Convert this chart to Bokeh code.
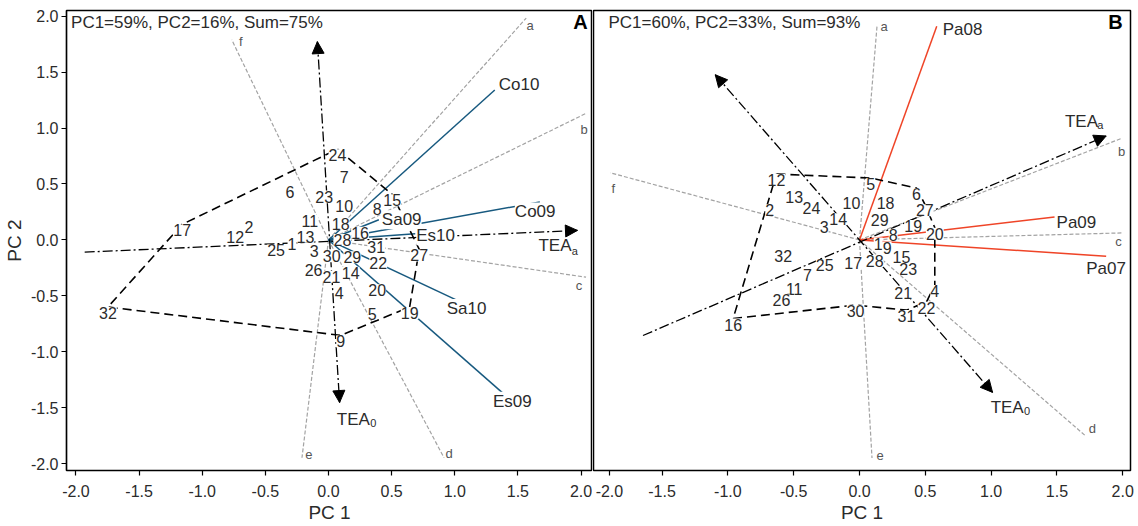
from bokeh.plotting import figure
from bokeh.layouts import row
from bokeh.models import (ColumnDataSource, Arrow, NormalHead, FixedTicker,
                          PrintfTickFormatter, Range1d)
from bokeh.core.properties import value
from bokeh.embed import file_html
from bokeh.resources import INLINE

FONT = "Liberation Sans"

# ---------------- data ----------------
genotypes = [str(i) for i in range(1, 33)]

# Panel A (PC1=59%, PC2=16%)
a_pc1 = [-0.289, -0.630, -0.113, 0.084, 0.346, -0.305, 0.124, 0.386, 0.097, 0.124,
         -0.147, -0.739, -0.183, 0.176, 0.504, 0.250, -1.159, 0.097, 0.643, 0.386,
         0.024, 0.394, -0.034, 0.071, -0.415, -0.118, 0.719, 0.110, 0.189, 0.026,
         0.378, -1.747]
a_pc2 = [0.013, 0.170, -0.047, -0.419, -0.605, 0.486, 0.620, 0.327, -0.853, 0.357,
         0.222, 0.082, 0.082, -0.240, 0.408, 0.118, 0.139, 0.199, -0.599, -0.396,
         -0.276, -0.151, 0.441, 0.811, -0.040, -0.211, -0.085, 0.052, -0.100, -0.091,
         -0.007, -0.599]
a_hull = ["24", "15", "27", "19", "9", "32", "17"]
a_env = ["Co10", "Co09", "Sa09", "Es10", "Sa10", "Es09"]
a_env_pc1 = [1.317, 1.674, 0.399, 0.687, 1.024, 1.390]
a_env_pc2 = [1.340, 0.339, 0.181, 0.056, -0.542, -1.378]
sectors = ["a", "b", "c", "d", "e", "f"]
a_sector_pc1 = [1.566, 2.040, 2.040, 0.915, -0.210, -0.766]
a_sector_pc2 = [1.982, 1.131, -0.333, -1.946, -1.946, 1.788]
a_tea_abs = [(-1.931, -0.109), (1.972, 0.085)]
a_tea_ord = [(-0.088, 1.772), (0.088, -1.453)]
a_title = "PC1=59%, PC2=16%, Sum=75%"

# Panel B (PC1=60%, PC2=33%)
b_pc1 = [0.142, -0.682, -0.268, 0.572, 0.086, 0.433, -0.395, 0.256, 0.210, -0.061,
         -0.496, -0.631, -0.496, -0.162, 0.319, -0.960, -0.048, 0.198, 0.408, 0.572,
         0.332, 0.509, 0.370, -0.365, -0.264, -0.593, 0.496, 0.116, 0.154, -0.030,
         0.357, -0.580]
b_pc2 = [0.021, 0.320, 0.173, -0.403, 0.553, 0.463, -0.260, 0.099, -0.015, 0.388,
         -0.383, 0.589, 0.439, 0.239, -0.099, -0.702, -0.150, 0.388, 0.179, 0.110,
         -0.418, -0.553, -0.209, 0.338, -0.170, -0.487, 0.320, -0.134, 0.230, -0.582,
         -0.627, -0.090]
b_hull = ["12", "5", "6", "27", "20", "4", "22", "31", "30", "16"]
b_env = ["Pa08", "Pa09", "Pa07"]
b_env_pc1 = [0.587, 1.482, 1.874]
b_env_pc2 = [1.909, 0.206, -0.146]
b_sector_pc1 = [0.134, 1.992, 2.005, 1.717, 0.095, -1.894]
b_sector_pc2 = [1.924, 0.908, 0.063, -1.750, -1.949, 0.600]
b_tea_abs = [(-1.645, -0.854), (1.874, 0.929)]
b_tea_ord = [(-1.096, 1.476), (1.011, -1.362)]
b_title = "PC1=60%, PC2=33%, Sum=93%"

x_ticks = [-2.0, -1.5, -1.0, -0.5, 0.0, 0.5, 1.0, 1.5, 2.0]
y_ticks = [-2.0, -1.5, -1.0, -0.5, 0.0, 0.5, 1.0, 1.5, 2.0]

# ---------------- styles ----------------
a_env_off = [(4, -5), (-25, 10), (3, 0), (1, 2), (-11, 8), (-11, 7)]
b_env_off = [(6, 3), (2, 6), (-20, 12)]
a_sector_off = [(4, 7), (-2, 16), (-7, 8), (5, -4), (7, -3), (9, 2)]
b_sector_off = [(7, 2), (0, 13), (-5, 9), (7, -7), (8, -3), (3, 16)]
a_tea_lab = {"abs": ((-22.5, 15), (-2.7, 21)), "ord": ((13.8, 16.6), (33.8, 20.6))}
b_tea_lab = {"abs": ((-24.7, -14.3), (-5.8, -11)), "ord": ((14.6, 15), (34.4, 19))}

TXT = "#2b2b2b"
DASHDOT = "10 3 2 3"


def base_fig(width, left, right, xr, with_y, x_tick_list, overrides=None):
    kw = dict(width=width, height=526, x_range=Range1d(*xr),
              y_range=Range1d(-2.06, 2.05), output_backend="svg",
              toolbar_location=None, min_border_left=left,
              min_border_right=right, min_border_top=10, min_border_bottom=56)
    if not with_y:
        kw["y_axis_location"] = None
    p = figure(**kw)
    p.grid.visible = False
    p.outline_line_color = "black"
    p.outline_line_width = 1.5
    p.background_fill_color = "white"
    p.border_fill_color = "white"
    ax = p.xaxis[0]
    ax.ticker = FixedTicker(ticks=x_tick_list)
    ax.formatter = PrintfTickFormatter(format="%.1f")
    if overrides:
        ax.major_label_overrides = overrides
    ax.axis_label = "PC 1"
    axes = [ax]
    if with_y:
        ay = p.yaxis[0]
        ay.ticker = FixedTicker(ticks=y_ticks)
        ay.formatter = PrintfTickFormatter(format="%.1f")
        ay.axis_label = "PC 2"
        axes.append(ay)
    for a in axes:
        a.axis_label_text_font = FONT
        a.axis_label_text_font_size = "19px"
        a.axis_label_text_font_style = "normal"
        a.axis_label_text_color = TXT
        a.major_label_text_font = FONT
        a.major_label_text_font_size = "16px"
        a.major_label_text_color = TXT
        a.major_tick_in = 0
        a.major_tick_out = 5
        a.minor_tick_in = 0
        a.minor_tick_out = 0
        a.axis_line_color = "black"
        a.axis_line_width = 1.2
        a.major_tick_line_width = 1.2
    ax.major_label_standoff = 9
    ax.axis_label_standoff = 2
    if with_y:
        ay.major_label_standoff = 3
        ay.axis_label_standoff = 3
    return p


def draw_panel(p, pc1, pc2, hull, env, env1, env2, env_off, env_color,
               sec1, sec2, sec_off, tea_abs, tea_ord, tea_lab,
               title, title_x, letter, letter_x):
    n_s = len(sectors)
    # sector (which-won-where) lines
    p.segment(x0=[0] * n_s, y0=[0] * n_s, x1=sec1, y1=sec2,
              line_color="#a3a3a3", line_width=1.2, line_dash="4 2")
    # environment vectors
    p.segment(x0=[0] * len(env), y0=[0] * len(env), x1=env1, y1=env2,
              line_color=env_color, line_width=1.5)
    # polygon
    idx = [genotypes.index(g) for g in hull] + [genotypes.index(hull[0])]
    p.line([pc1[i] for i in idx], [pc2[i] for i in idx],
           line_color="black", line_width=1.6, line_dash="9 5")
    # TEA axes (dash-dot)
    for seg in (tea_abs, tea_ord):
        p.line([seg[0][0], seg[1][0]], [seg[0][1], seg[1][1]],
               line_color="black", line_width=1.3, line_dash=DASHDOT)
    # genotype labels
    gsrc = ColumnDataSource(dict(x=pc1, y=pc2, t=genotypes))
    p.text(x="x", y="y", text="t", source=gsrc, text_align="center",
           text_baseline="top", text_font=value(FONT), text_font_size="16px",
           text_color=TXT, background_fill_color="white")
    # environment labels
    esrc = ColumnDataSource(dict(x=env1, y=env2, t=env,
                                 dx=[o[0] for o in env_off],
                                 dy=[o[1] for o in env_off]))
    p.text(x="x", y="y", text="t", source=esrc, x_offset="dx", y_offset="dy",
           text_align="left", text_baseline="middle", text_font=value(FONT),
           text_font_size="17px", text_color=TXT, background_fill_color="white")
    # sector letters
    ssrc = ColumnDataSource(dict(x=sec1, y=sec2, t=sectors,
                                 dx=[o[0] for o in sec_off],
                                 dy=[o[1] for o in sec_off]))
    p.text(x="x", y="y", text="t", source=ssrc, x_offset="dx", y_offset="dy",
           text_align="center", text_baseline="middle", text_font=value(FONT),
           text_font_size="13px", text_color="#555555")
    # TEA labels
    for key, seg, sub in (("abs", tea_abs, "a"), ("ord", tea_ord, "0")):
        (mdx, mdy), (sdx, sdy) = tea_lab[key]
        ex, ey = seg[1]
        p.text(x=[ex], y=[ey], text=["TEA"], x_offset=mdx, y_offset=mdy,
               text_align="center", text_baseline="middle",
               text_font=value(FONT), text_font_size="17px", text_color=TXT)
        p.text(x=[ex], y=[ey], text=[sub], x_offset=sdx, y_offset=sdy,
               text_align="center", text_baseline="middle",
               text_font=value(FONT), text_font_size="11px", text_color=TXT)
    # arrow heads
    head = lambda: NormalHead(size=12, fill_color="black", line_color="black")
    p.add_layout(Arrow(x_start=tea_abs[0][0], y_start=tea_abs[0][1],
                       x_end=tea_abs[1][0], y_end=tea_abs[1][1],
                       start=None, end=head(), line_alpha=0))
    p.add_layout(Arrow(x_start=tea_ord[0][0], y_start=tea_ord[0][1],
                       x_end=tea_ord[1][0], y_end=tea_ord[1][1],
                       start=head(), end=head(), line_alpha=0))
    # panel title and letter
    p.text(x=[title_x], y=[1.944], text=[title], text_align="left",
           text_baseline="middle", text_font=value(FONT),
           text_font_size="17px", text_color=TXT)
    p.text(x=[letter_x], y=[1.944], text=[letter], text_align="center",
           text_baseline="middle", text_font=value(FONT),
           text_font_size="20px", text_font_style="bold", text_color="black")


pA = base_fig(592, 63, 0, (-2.075, 2.091), True, x_ticks)
draw_panel(pA, a_pc1, a_pc2, a_hull, a_env, a_env_pc1, a_env_pc2, a_env_off,
           "#17597f", a_sector_pc1, a_sector_pc2, a_sector_off,
           a_tea_abs, a_tea_ord, a_tea_lab, a_title, -2.039, "A", 1.996)

b_ticks = [-1.9] + x_ticks[1:]
pB = base_fig(546, 1, 8, (-2.021, 2.059), False, b_ticks, {-1.9: "-2.0"})
draw_panel(pB, b_pc1, b_pc2, b_hull, b_env, b_env_pc1, b_env_pc2, b_env_off,
           "#ef4427", b_sector_pc1, b_sector_pc2, b_sector_off,
           b_tea_abs, b_tea_ord, b_tea_lab, b_title, -1.907, "B", 1.945)

layout = row(pA, pB)
open("out.html", "w").write(file_html(layout, INLINE))
